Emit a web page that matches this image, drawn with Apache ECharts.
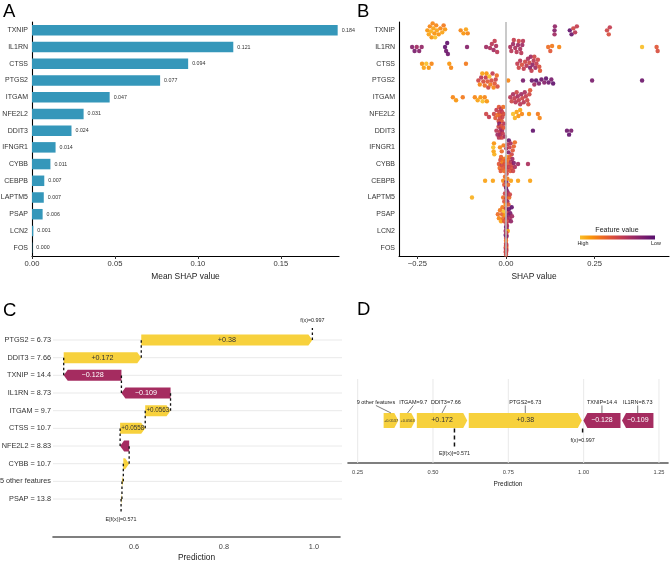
<!DOCTYPE html>
<html><head><meta charset="utf-8">
<script src="https://cdn.jsdelivr.net/npm/echarts@6/dist/echarts.min.js"></script>
<style>html,body{margin:0;padding:0;background:#fff}#c{width:671px;height:564px}</style>
</head><body><div id="c"></div>
<script>
const FF = 'Liberation Sans, Arial, sans-serif';
// ---------- Panel A ----------
const GENES = ['TXNIP','IL1RN','CTSS','PTGS2','ITGAM','NFE2L2','DDIT3','IFNGR1','CYBB','CEBPB','LAPTM5','PSAP','LCN2','FOS'];
const A_MEAN_SHAP = [0.1842,0.1213,0.0941,0.0772,0.0468,0.0311,0.0238,0.0142,0.0111,0.0074,0.0071,0.0064,0.0008,0.0002];
const A_TICKS = [0, 0.05, 0.10, 0.15];
// ---------- Panel B : [SHAP value, scaled feature value (1 = high)] ----------
const B_TXNIP = [[-0.222,0.85],[-0.218,0.9],[-0.215,0.8],[-0.212,0.95],[-0.21,0.85],[-0.207,0.8],[-0.205,0.9],[-0.202,0.85],[-0.2,1.0],[-0.197,0.8],[-0.195,0.9],[-0.19,0.85],[-0.185,0.8],[-0.18,0.9],[-0.176,0.75],[-0.172,0.85],[-0.128,0.8],[-0.12,0.85],[-0.113,0.9],[-0.108,0.8],[0.137,0.2],[0.137,0.3],[0.138,0.25],[0.18,0.05],[0.185,0.1],[0.19,0.5],[0.195,0.4],[0.2,0.45],[0.285,0.5],[0.29,0.55],[0.293,0.45]];
const B_IL1RN = [[-0.265,0.2],[-0.258,0.15],[-0.252,0.3],[-0.245,0.2],[-0.238,0.25],[-0.172,0.05],[-0.169,0.1],[-0.166,0.05],[-0.164,0.1],[-0.11,0.2],[-0.056,0.3],[-0.045,0.35],[-0.04,0.4],[-0.035,0.3],[-0.032,0.45],[-0.028,0.35],[-0.025,0.4],[0.012,0.35],[0.015,0.4],[0.02,0.3],[0.022,0.45],[0.026,0.35],[0.03,0.4],[0.034,0.3],[0.036,0.5],[0.04,0.35],[0.043,0.4],[0.046,0.3],[0.048,0.4],[0.119,0.7],[0.125,0.6],[0.13,0.75],[0.15,0.8],[0.384,1.0],[0.425,0.6],[0.428,0.55]];
const B_CTSS = [[-0.237,0.85],[-0.232,0.9],[-0.225,1.0],[-0.218,0.85],[-0.21,0.8],[-0.16,0.85],[-0.155,0.8],[-0.113,0.75],[0.032,0.45],[0.036,0.5],[0.04,0.4],[0.045,0.55],[0.05,0.45],[0.054,0.5],[0.058,0.4],[0.062,0.35],[0.066,0.5],[0.068,0.2],[0.07,0.3],[0.072,0.45],[0.075,0.25],[0.078,0.4],[0.08,0.5],[0.083,0.3],[0.086,0.45],[0.09,0.5],[0.094,0.55],[0.096,0.6]];
const B_PTGS2 = [[-0.078,0.5],[-0.074,0.8],[-0.07,0.4],[-0.067,0.9],[-0.064,0.55],[-0.06,0.7],[-0.057,0.45],[-0.055,0.85],[-0.052,0.6],[-0.05,0.5],[-0.047,1.0],[-0.044,0.75],[-0.041,0.55],[-0.038,0.45],[-0.035,0.8],[-0.032,0.6],[-0.029,0.5],[-0.026,0.7],[-0.024,0.55],[0.006,0.8],[0.048,0.15],[0.073,0.1],[0.08,0.3],[0.085,0.05],[0.093,0.15],[0.1,0.1],[0.108,0.2],[0.113,0.05],[0.12,0.1],[0.128,0.15],[0.133,0.05],[0.243,0.15],[0.384,0.1]];
const B_ITGAM = [[-0.15,0.8],[-0.141,0.85],[-0.122,0.75],[-0.088,0.8],[-0.08,0.9],[-0.072,0.85],[-0.066,1.0],[-0.06,0.8],[-0.054,0.85],[0.012,0.4],[0.016,0.5],[0.02,0.35],[0.024,0.45],[0.027,0.4],[0.03,0.5],[0.033,0.35],[0.036,0.45],[0.04,0.4],[0.043,0.3],[0.046,0.5],[0.05,0.4],[0.053,0.35],[0.056,0.45],[0.06,0.5],[0.063,0.55],[0.066,0.5],[0.068,0.6]];
const B_NFE2L2 = [[-0.056,0.5],[-0.048,0.45],[-0.034,0.5],[-0.03,0.6],[-0.027,0.45],[-0.024,0.7],[-0.021,0.55],[-0.02,0.6],[-0.019,0.5],[-0.017,0.5],[-0.016,0.65],[-0.014,0.4],[-0.012,0.6],[-0.011,0.45],[-0.01,0.5],[-0.008,0.7],[-0.006,0.55],[0.02,1.0],[0.025,0.95],[0.03,0.9],[0.035,0.85],[0.04,0.9],[0.045,0.8],[0.065,0.85],[0.09,0.75],[0.095,0.8]];
const B_DDIT3 = [[-0.027,0.4],[-0.024,0.3],[-0.021,0.5],[-0.02,0.4],[-0.019,0.2],[-0.017,0.45],[-0.016,0.3],[-0.015,0.35],[-0.013,0.55],[-0.012,0.5],[-0.011,0.3],[-0.009,0.45],[-0.007,0.6],[-0.005,0.4],[-0.003,0.35],[0.076,0.05],[0.172,0.1],[0.178,0.05],[0.184,0.15]];
const B_IFNGR1 = [[-0.036,1.0],[-0.035,0.9],[-0.034,0.85],[-0.033,0.95],[-0.017,0.8],[-0.012,0.7],[-0.007,0.75],[0.001,0.3],[0.004,0.4],[0.007,0.2],[0.008,0.1],[0.01,0.45],[0.013,0.35],[0.016,0.5],[0.019,0.6],[0.022,0.65],[0.025,0.7]];
const B_CYBB = [[-0.02,0.6],[-0.018,0.7],[-0.016,0.55],[-0.015,0.6],[-0.014,0.65],[-0.012,0.5],[-0.01,0.75],[-0.008,0.6],[-0.006,0.7],[-0.005,0.7],[-0.004,0.55],[-0.002,0.65],[0,0.6],[0.002,0.9],[0.004,0.5],[0.005,0.6],[0.006,0.7],[0.008,0.45],[0.01,0.65],[0.012,0.6],[0.014,0.4],[0.015,0.5],[0.016,0.55],[0.018,0.3],[0.02,0.5],[0.022,0.2],[0.025,0.35],[0.034,0.3],[0.062,0.35]];
const B_CEBPB = [[-0.059,0.9],[-0.037,0.9],[-0.008,0.8],[-0.005,0.6],[-0.003,0.7],[0,0.1],[0.001,0.2],[0.002,0.5],[0.004,0.75],[0.006,0.65],[0.014,0.9],[0.034,0.9],[0.068,0.9]];
const B_LAPTM5 = [[-0.096,0.95],[-0.008,0.7],[-0.005,0.6],[-0.003,0.5],[-0.001,0.8],[0.001,0.4],[0.002,0.1],[0.003,0.2],[0.004,0.25],[0.005,0.3],[0.007,0.6],[0.009,0.7],[0.011,0.5]];
const B_PSAP = [[-0.023,0.7],[-0.02,0.8],[-0.017,0.75],[-0.014,0.9],[-0.011,0.65],[-0.01,0.75],[-0.008,0.7],[-0.006,1.0],[-0.005,0.6],[-0.003,0.85],[0,0.5],[0.002,0.3],[0.004,0.4],[0.005,0.5],[0.006,0.2],[0.008,0.1],[0.01,0.35],[0.012,0.15],[0.014,0.25],[0.016,0.05],[0.017,0.3]];
const B_LCN2 = [[0,0.1],[0.001,0.4],[0.002,0.2],[-0.001,0.3],[0,0.5],[0.003,0.35],[0.005,0.9],[0.002,0.25],[-0.001,0.15],[0.001,0.45]];
const B_FOS = [[0,0.5],[0.001,0.6],[0,0.55],[-0.001,0.45],[0.001,0.65],[0,0.7],[0.001,0.5],[0,0.4],[0,0.6],[-0.001,0.55],[0,0.5],[0.001,0.45]];
const B_ROWS = [B_TXNIP,B_IL1RN,B_CTSS,B_PTGS2,B_ITGAM,B_NFE2L2,B_DDIT3,B_IFNGR1,B_CYBB,B_CEBPB,B_LAPTM5,B_PSAP,B_LCN2,B_FOS];
const B_TICKS = [-0.25, 0, 0.25];
// ---------- Panel C (waterfall) ----------
const C_LABELS = ['PTGS2 = 6.73','DDIT3 = 7.66','TXNIP = 14.4','IL1RN = 8.73','ITGAM = 9.7','CTSS = 10.7','NFE2L2 = 8.83','CYBB = 10.7','5 other features','PSAP = 13.8'];
const C_SHAP = [0.3804,0.1724,-0.1283,-0.1092,0.0563,0.0558,-0.0201,0.0130,0.0030,0.0020];
const BASE_VALUE = 0.5713;
const C_TICKS = [0.6, 0.8, 1.0];
// ---------- Panel D (force plot) ----------
const D_LABELS = ['9 other features','ITGAM=9.7','DDIT3=7.66','PTGS2=6.73','TXNIP=14.4','IL1RN=8.73'];
const D_SHAP = [0.0537,0.0563,0.1724,0.3804,-0.1283,-0.1092];
const D_TICKS = [0.25, 0.50, 0.75, 1.00, 1.25];

// layout helpers (styles, not data)
const D_LABEL_SHIFT = [-0.050, 0.019, 0.013, 0, 0, 0];
const YEL = '#F7D13D', MAG = '#A52C60';
const INFERNO = ['#57106E','#781C6D','#9B2964','#BF3952','#DB503B','#EF6E21','#FA960A','#F9BE28'];

function fmtSigned(v){ const s = String(Number(Math.abs(v).toPrecision(3))); return (v>=0?'+':'\u2212') + s; }

// beeswarm layout (pixel based)
const B_PX_PER_UNIT = 354, B_ROW_PX = 234/14;
function swarm(xs, d, maxOff){
  const idx = xs.map((v,i)=>i).sort((a,b)=>xs[a]-xs[b]);
  const placed = [], off = new Array(xs.length);
  for (const i of idx){
    const px = xs[i]*B_PX_PER_UNIT;
    let best = 0, bestScore = -1;
    for (let k=0;k<=2*maxOff;k++){
      const o = (k%2===1?1:-1)*Math.ceil(k/2);
      let md = Infinity;
      for (const p of placed){ const dist = Math.hypot(p[0]-px, p[1]-o); if (dist<md) md=dist; }
      if (md >= d){ best=o; bestScore=Infinity; break; }
      if (md > bestScore){ bestScore=md; best=o; }
    }
    placed.push([px,best]); off[i]=best;
  }
  return off;
}
const scatterData = [];
B_ROWS.forEach((rows, r) => {
  const off = swarm(rows.map(p=>p[0]), 4, 7);
  rows.forEach((p,j) => scatterData.push([p[0], r + off[j]/B_ROW_PX, p[1]]));
});

// waterfall geometry from values
const cData = [];
let run = BASE_VALUE;
for (let i = C_SHAP.length-1; i>=0; i--){ const s = run, e = run + C_SHAP[i]; cData[i] = [s, e, i, C_SHAP[i]]; run = e; }
const FX = run;
// force plot geometry
const dData = [];
{ let x = FX; for (let k = 3; k>=0; k--){ dData[k] = [x - D_SHAP[k], x, D_SHAP[k], (2*x - D_SHAP[k])/2 + D_LABEL_SHIFT[k], k]; x -= D_SHAP[k]; }
  x = FX; for (let k = 4; k<6; k++){ const w = -D_SHAP[k]; dData[k] = [x, x + w, D_SHAP[k], x + w/2 + D_LABEL_SHIFT[k], k]; x += w; } }

function txt(text, x, y, size, fill, align, valign, extra){
  return Object.assign({type:'text', style:{text, x, y, fill, fontSize:size, fontFamily:FF, align, verticalAlign:valign, textAlign:align, textVerticalAlign:valign}}, extra||{});
}

const chart = echarts.init(document.getElementById('c'), null, {renderer:'canvas'});
const axisTxt = {fontSize:7.6, color:'#333', fontFamily:FF};
const nameTxt = {fontSize:8.4, color:'#222', fontFamily:FF};
const option = {
  animation:false,
  textStyle:{fontFamily:FF},
  grid:[
    {left:32, right:332, top:22, bottom:308, outerBoundsMode:'none'},
    {left:399, right:2, top:22, bottom:308, outerBoundsMode:'none'},
    {left:53, right:331, top:310, bottom:27, outerBoundsMode:'none'},
    {left:348, right:3, top:379, bottom:101, outerBoundsMode:'none'}
  ],
  visualMap:[{type:'continuous', show:false, seriesIndex:2, dimension:2, min:0, max:1, inRange:{color:INFERNO}}],
  xAxis:[
    {gridIndex:0, type:'value', min:0, max:0.185, interval:0.05,
     axisLine:{show:true, onZero:false, lineStyle:{color:'#000', width:1.1}}, axisTick:{show:true, length:3, lineStyle:{color:'#333'}},
     axisLabel:Object.assign({margin:4, showMaxLabel:false, formatter:v=>v.toFixed(2)}, axisTxt), splitLine:{show:false},
     name:'Mean SHAP value', nameLocation:'middle', nameGap:17, nameTextStyle:nameTxt},
    {gridIndex:1, type:'value', min:-0.302, max:0.46,
     axisLine:{show:true, onZero:false, lineStyle:{color:'#000', width:1.1}}, axisTick:{show:true, length:3, customValues:B_TICKS, lineStyle:{color:'#333'}},
     axisLabel:Object.assign({margin:4, customValues:B_TICKS, formatter:v=>(v<0?'\u2212':'')+Math.abs(v).toFixed(2)}, axisTxt), splitLine:{show:false},
     name:'SHAP value', nameLocation:'middle', nameGap:17, nameTextStyle:nameTxt},
    {gridIndex:2, type:'value', min:0.42, max:1.058,
     axisLine:{show:true, onZero:false, lineStyle:{color:'#555', width:1.6}}, axisTick:{show:false, customValues:C_TICKS},
     axisLabel:{margin:6, customValues:C_TICKS, formatter:v=>v.toFixed(1), fontSize:7.3, color:'#444', fontFamily:FF}, splitLine:{show:false},
     name:'Prediction', nameLocation:'middle', nameGap:17, nameTextStyle:nameTxt},
    {gridIndex:3, type:'value', min:0.218, max:1.28,
     axisLine:{show:true, onZero:false, lineStyle:{color:'#555', width:1.6}}, axisTick:{show:false, customValues:D_TICKS},
     axisLabel:{margin:6, customValues:D_TICKS, formatter:v=>v.toFixed(2), fontSize:5.7, color:'#444', fontFamily:FF}, splitLine:{show:false},
     name:'Prediction', nameLocation:'middle', nameGap:18, nameTextStyle:{fontSize:6.5, color:'#222', fontFamily:FF}}
  ],
  yAxis:[
    {gridIndex:0, type:'category', data:GENES, inverse:true,
     axisLine:{onZero:false, lineStyle:{color:'#000', width:1.1}}, axisTick:{length:3, alignWithLabel:true, lineStyle:{color:'#333'}},
     axisLabel:{fontSize:7, color:'#333', margin:4, interval:0, fontFamily:FF}},
    {gridIndex:1, type:'category', data:GENES, inverse:true,
     axisLine:{onZero:false, lineStyle:{color:'#000', width:1.1}}, axisTick:{length:3, alignWithLabel:true, lineStyle:{color:'#333'}},
     axisLabel:{fontSize:7, color:'#333', margin:4, interval:0, fontFamily:FF}},
    {gridIndex:1, type:'value', show:false, min:-0.5, max:13.5, inverse:true, axisLine:{onZero:false}},
    {gridIndex:2, type:'value', min:-1.698, max:11.149, inverse:true,
     axisLine:{show:false, onZero:false}, axisTick:{show:false}, splitLine:{show:false},
     axisLabel:{customValues:C_LABELS.map((_,i)=>i), formatter:v=>C_LABELS[Math.round(v)], fontSize:7.3, color:'#333', margin:2, fontFamily:FF}},
    {gridIndex:3, type:'value', show:false, min:0, max:1, axisLine:{onZero:false}}
  ],
  graphic:[
    txt('A', 3, 2, 18.5, '#000', 'left', 'top'),
    txt('B', 357, 2, 18.5, '#000', 'left', 'top'),
    txt('C', 3, 301, 18.5, '#000', 'left', 'top'),
    txt('D', 357, 300, 18.5, '#000', 'left', 'top'),
    txt('Feature value', 617, 230, 7.1, '#222', 'center', 'middle'),
    {type:'rect', shape:{x:580, y:235.5, width:75, height:4},
     style:{fill:{type:'linear', x:0, y:0, x2:1, y2:0, colorStops:INFERNO.slice().reverse().map((c,i,a)=>({offset:i/(a.length-1), color:c}))}}},
    txt('High', 583, 244, 5.4, '#222', 'center', 'middle'),
    txt('Low', 656, 244, 5.4, '#222', 'center', 'middle')
  ],
  series:[
    {type:'bar', xAxisIndex:0, yAxisIndex:0, data:A_MEAN_SHAP, barWidth:10.5,
     itemStyle:{color:'#3597BA'},
     label:{show:true, position:'right', distance:4, fontSize:5.3, color:'#333', fontFamily:FF, formatter:p=>p.value.toFixed(3)}},
    {type:'line', xAxisIndex:1, yAxisIndex:2, data:[[0,-0.5],[0,13.5]], symbol:'none', silent:true,
     lineStyle:{color:'#BDBDBD', width:1.6}},
    {type:'scatter', xAxisIndex:1, yAxisIndex:2, data:scatterData, symbolSize:4.4, itemStyle:{opacity:0.92}},
    {type:'custom', xAxisIndex:2, yAxisIndex:3, data:C_LABELS.map((_,i)=>[i]), silent:true, z:1,
     encode:{y:0},
     renderItem:(params, api)=>{
       const cs = params.coordSys; const y = api.coord([0.6, api.value(0)])[1];
       return {type:'line', shape:{x1:cs.x, y1:y, x2:cs.x+cs.width+2, y2:y}, style:{stroke:'#E6E6E6', lineWidth:0.9}};
     }},
    {type:'custom', xAxisIndex:2, yAxisIndex:3, data:cData, silent:true, z:3,
     encode:{x:[0,1], y:2},
     renderItem:(params, api)=>{
       const s=api.value(0), e=api.value(1), i=api.value(2), v=api.value(3);
       const p0=api.coord([s,i]), p1=api.coord([e,i]);
       const y=p0[1], h=5.5, tip=4, x0=p0[0], x1=p1[0];
       let pts;
       if (v>=0){ const t=Math.min(tip, x1-x0); pts=[[x0,y-h],[x1-t,y-h],[x1,y],[x1-t,y+h],[x0,y+h]]; }
       else { const t=Math.min(tip, x0-x1); pts=[[x0,y-h],[x1+t,y-h],[x1,y],[x1+t,y+h],[x0,y+h]]; }
       const ch=[{type:'polygon', shape:{points:pts}, style:{fill:v>=0?YEL:MAG}}];
       const av=Math.abs(v);
       if (av>=0.05) ch.push(txt(fmtSigned(v), (x0+x1)/2, y, av>=0.1?7.2:6.3, v>=0?'#333':'#fff', 'center', 'middle'));
       const yPrev = api.coord([e, i===0 ? -0.68 : i-1])[1];
       const dash={stroke:'#111', lineWidth:1.3, lineDash:[2.5,2.5]};
       ch.push({type:'line', shape:{x1:x1, y1:y, x2:x1, y2:yPrev}, style:dash});
       if (i===0) ch.push(txt('f(x)='+e.toFixed(3), x1, api.coord([e,-1.13])[1], 5.4, '#222', 'center', 'middle'));
       if (i===C_SHAP.length-1){
         ch.push({type:'line', shape:{x1:x0, y1:y, x2:x0, y2:api.coord([s,9.79])[1]}, style:dash});
         ch.push(txt('E[f(x)]='+s.toFixed(3), x0, api.coord([s,10.15])[1], 5.4, '#222', 'center', 'middle'));
       }
       return {type:'group', children:ch};
     }},
    {type:'custom', xAxisIndex:3, yAxisIndex:4, data:D_TICKS.map(t=>[t]), silent:true, z:1,
     encode:{x:0},
     renderItem:(params, api)=>{
       const cs=params.coordSys; const x=api.coord([api.value(0),0])[0];
       return {type:'line', shape:{x1:x, y1:cs.y, x2:x, y2:cs.y+cs.height}, style:{stroke:'#E6E6E6', lineWidth:0.9}};
     }},
    {type:'custom', xAxisIndex:3, yAxisIndex:4, data:dData, silent:true, z:3,
     encode:{x:[0,1]},
     renderItem:(params, api)=>{
       const s=api.value(0), e=api.value(1), v=api.value(2), lx=api.value(3);
       const pc=api.coord([s,0.506]); const y=pc[1];
       let x0=pc[0]+0.75, x1=api.coord([e,0.506])[0]-0.75;
       const h=7.5, tip=4, t=Math.min(tip, x1-x0);
       let pts;
       if (v>=0) pts=[[x0,y-h],[x1-t,y-h],[x1,y],[x1-t,y+h],[x0,y+h]];
       else pts=[[x0+t,y-h],[x1,y-h],[x1,y+h],[x0+t,y+h],[x0,y]];
       const av=Math.abs(v), cx=(x0+x1)/2;
       const ch=[{type:'polygon', shape:{points:pts}, style:{fill:v>=0?YEL:MAG}}];
       ch.push(txt(fmtSigned(v), cx, y, av>=0.1?7:3.9, v>=0?'#333':'#fff', 'center', 'middle'));
       const lxp=api.coord([lx,0.506])[0];
       ch.push(txt(D_LABELS[api.value(4)], lxp, y-18.5, 5.5, '#222', 'center', 'middle'));
       ch.push({type:'line', shape:{x1:lxp, y1:y-15, x2:cx, y2:y-h}, style:{stroke:'#444', lineWidth:0.7}});
       return {type:'group', children:ch};
     }},
    {type:'custom', xAxisIndex:3, yAxisIndex:4, data:[[BASE_VALUE,0],[FX,1]], silent:true, z:4,
     encode:{x:0},
     renderItem:(params, api)=>{
       const x=api.value(0), k=api.value(1); const p=api.coord([x,0.506]);
       const dash={stroke:'#111', lineWidth:1.5, lineDash:[4,3]};
       if (k===0) return {type:'group', children:[
         {type:'line', shape:{x1:p[0], y1:p[1]+8, x2:p[0], y2:p[1]+28}, style:dash},
         txt('E[f(x)]='+x.toFixed(3), p[0], p[1]+33, 5.4, '#222', 'center', 'middle')]};
       return {type:'group', children:[
         {type:'line', shape:{x1:p[0], y1:p[1]+8, x2:p[0], y2:p[1]+14.5}, style:dash},
         txt('f(x)='+x.toFixed(3), p[0], p[1]+20, 5.4, '#222', 'center', 'middle')]};
     }}
  ]
};
chart.setOption(option);
</script></body></html>
